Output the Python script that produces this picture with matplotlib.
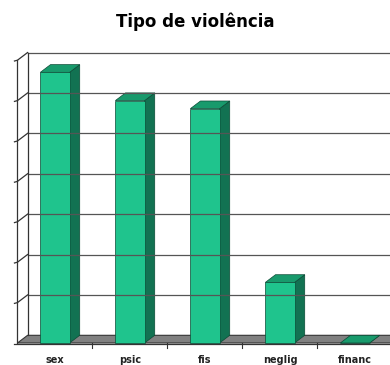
import matplotlib
matplotlib.use("Agg")
import matplotlib.pyplot as plt
from matplotlib.patches import Polygon

# data
categories = ['sex', 'psic', 'fis', 'neglig', 'financ']
values = [6.7, 6.0, 5.8, 1.5, 0.0]
ymax = 7

# pseudo 3d look (depth offset in data units)
dx, dy = 0.135, 0.19
hw = 0.195
c_front, c_side, c_top = '#1fc48d', '#127252', '#189a6c'
c_floor = '#808080'

fig = plt.figure(figsize=(3.9, 3.65), dpi=100)
ax = fig.add_axes([0, 0, 1, 1])
ax.set_xlim(-0.733, 4.467)
ax.set_ylim(-0.545, 8.49)
ax.axis('off')

n = len(categories)
x0, x1 = -0.5, n - 0.5

# back wall gridlines + left wall
for v in range(1, ymax + 1):
    ax.plot([x0 + dx, x1 + dx], [v + dy, v + dy], color='#555555', lw=0.9)
    ax.plot([x0 - 0.04, x0, x0 + dx], [v - 0.02, v, v + dy], color='#333333', lw=0.9)
ax.plot([x0, x0], [0, ymax], color='#333333', lw=0.9)
ax.plot([x0 + dx, x0 + dx], [dy, ymax + dy], color='#333333', lw=0.9)

# floor
floor = Polygon([(x0, 0), (x1, 0), (x1 + dx, dy), (x0 + dx, dy)],
                closed=True, facecolor=c_floor, edgecolor='#333333', lw=0.8)
ax.add_patch(floor)
ax.plot([x0 - 0.04, x1], [-0.02, -0.02], color='#333333', lw=0.9)
for i in range(1, n):
    ax.plot([i - 0.5, i - 0.5], [0, -0.12], color='#333333', lw=0.8)

# bars
for i, v in enumerate(values):
    l, r = i - hw, i + hw
    side = Polygon([(r, 0), (r + dx, dy), (r + dx, v + dy), (r, v)],
                   facecolor=c_side, edgecolor='#0b4a35', lw=0.5)
    top = Polygon([(l, v), (r, v), (r + dx, v + dy), (l + dx, v + dy)],
                  facecolor=c_top, edgecolor='#0b4a35', lw=0.5)
    front = Polygon([(l, 0), (r, 0), (r, v), (l, v)],
                    facecolor=c_front, edgecolor='#0b4a35', lw=0.5)
    ax.add_patch(side)
    ax.add_patch(top)
    ax.add_patch(front)
    ax.text(i, -0.42, categories[i], ha='center', va='center',
            fontsize=7, color='#222222', fontweight='semibold')

fig.text(0.5, 0.94, 'Tipo de violência', ha='center', va='center',
         fontsize=12, fontweight='bold')

fig.savefig('out.png', dpi=100)
